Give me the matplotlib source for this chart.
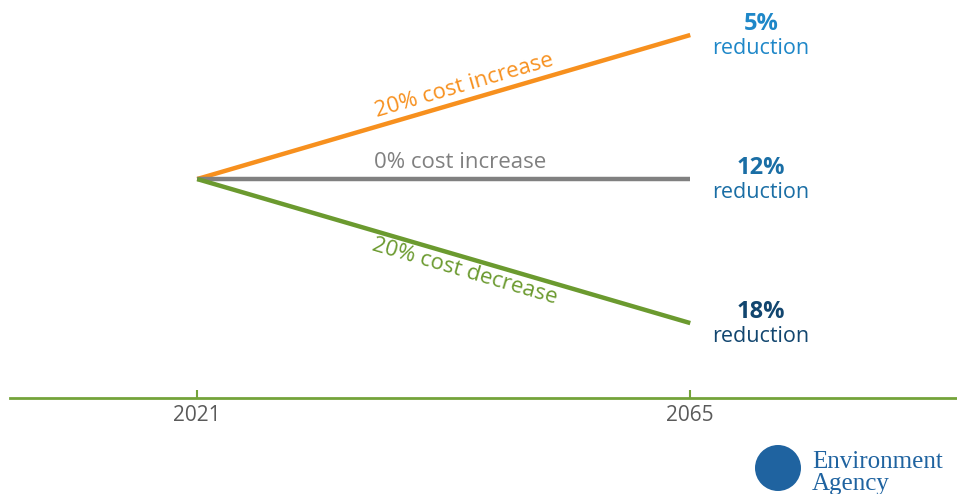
import numpy as np
import matplotlib.pyplot as plt
from matplotlib.patches import Circle

# scenario data: % change in cost from 2021 to 2065
years = [2021, 2065]
scenarios = ['20% cost increase', '0% cost increase', '20% cost decrease']
start_vals = [0, 0, 0]
end_vals = [20, 0, -20]
reductions = ['5%', '12%', '18%']

line_colors = ['#F7901E', '#808080', '#6B9A2F']
num_colors = ['#1E87C8', '#1A6EA5', '#12466F']
axis_green = '#74A33A'
logo_blue = '#1F63A0'

plt.rcParams['font.family'] = ['Open Sans', 'DejaVu Sans']

fig = plt.figure(figsize=(9.57, 4.94), dpi=100)
ax = fig.add_axes([10 / 957, 96 / 494, 947 / 957, 398 / 494])
ax.set_xlim(2004.3, 2088.8)
ax.set_ylim(-30.4, 24.86)

for i in range(len(scenarios)):
    ax.plot(years, [start_vals[i], end_vals[i]], color=line_colors[i], lw=3.2,
            solid_capstyle='butt', zorder=3)

# labels along each line, rotated to the on-screen slope
fig.canvas.draw()
label_offsets = [15, 17, -14]
label_x = [2045.2, 2044.5, 2045.2]
for i in range(len(scenarios)):
    p0 = ax.transData.transform((years[0], start_vals[i]))
    p1 = ax.transData.transform((years[1], end_vals[i]))
    ang = np.degrees(np.arctan2(p1[1] - p0[1], p1[0] - p0[0]))
    xm = label_x[i]
    ym = np.interp(xm, years, [start_vals[i], end_vals[i]])
    ax.annotate(scenarios[i], xy=(xm, ym),
                xytext=(-np.sin(np.radians(ang)) * label_offsets[i] * 0.72,
                        np.cos(np.radians(ang)) * label_offsets[i] * 0.72),
                textcoords='offset points', ha='center', va='center',
                rotation=ang, rotation_mode='anchor', fontsize=16,
                color=line_colors[i])

# reduction labels at the end of each line
for i in range(len(scenarios)):
    ax.annotate(reductions[i], xy=(years[1], end_vals[i]), xytext=(51, 8),
                textcoords='offset points', ha='center', va='center',
                fontsize=17, fontweight='bold', color=num_colors[i])
    ax.annotate('reduction', xy=(years[1], end_vals[i]), xytext=(51, -9.5),
                textcoords='offset points', ha='center', va='center',
                fontsize=15.5, color=num_colors[i])

# axis styling
for s in ['top', 'right', 'left']:
    ax.spines[s].set_visible(False)
ax.spines['bottom'].set_color(axis_green)
ax.spines['bottom'].set_linewidth(2)
ax.set_yticks([])
ax.set_xticks(years)
ax.set_xticklabels([str(y) for y in years])
ax.tick_params(axis='x', direction='in', length=6, width=1.5, color=axis_green,
               labelsize=15, labelcolor='#5A5A5A', pad=5)

# Environment Agency logo (approximation)
logo = Circle((7.78, 0.26), 0.23, transform=fig.dpi_scale_trans,
              facecolor=logo_blue, edgecolor='none')
fig.patches.append(logo)
fig.text(812 / 957, 1 - 462 / 494, 'Environment', family='Liberation Serif',
         fontsize=18, color=logo_blue, va='center', ha='left')
fig.text(812 / 957, 1 - 484 / 494, 'Agency', family='Liberation Serif',
         fontsize=18, color=logo_blue, va='center', ha='left')

fig.savefig('out.png', dpi=100)
